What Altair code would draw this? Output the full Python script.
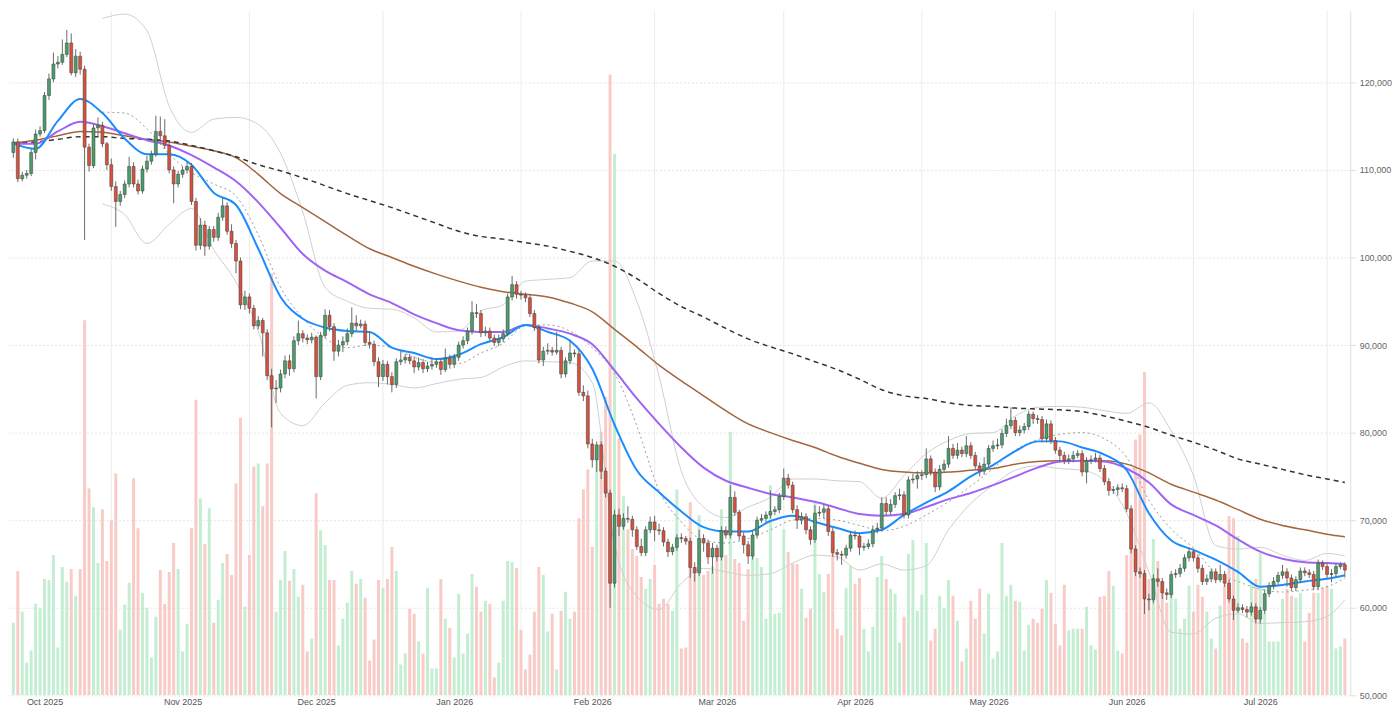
import altair as alt
import pandas as pd

# ---------------- data (prices in thousands of USD) ----------------
first_day = "2025-09-24"

opens = [
112.0,113.2,109.0,109.4,109.6,112.0,114.1,114.5,118.5,120.4,
122.1,122.3,123.2,124.5,121.1,123.0,121.5,112.6,110.5,114.8,
115.1,113.0,110.6,108.1,106.4,107.2,108.4,110.4,108.4,107.6,
110.1,111.0,111.8,114.4,113.9,112.8,110.0,108.4,109.5,110.0,
110.4,106.4,101.4,103.7,101.3,103.2,102.3,104.6,105.9,103.0,
101.6,99.6,94.6,95.5,94.2,92.2,92.8,91.4,86.5,85.0,
85.1,86.7,88.2,87.3,90.5,91.3,90.8,90.6,90.9,86.4,
91.1,93.4,92.1,89.3,90.0,90.4,91.3,92.5,92.2,92.4,
90.3,90.1,88.1,86.4,87.8,86.4,85.5,88.1,88.3,88.6,
88.2,87.5,88.0,87.3,87.6,87.8,88.1,87.2,88.5,87.8,
88.6,90.0,90.5,91.6,93.7,93.6,91.4,91.6,90.8,90.3,
90.7,91.3,95.5,96.9,95.8,95.7,95.4,93.6,92.0,88.3,
89.3,89.4,89.2,89.4,86.7,88.2,89.1,89.0,84.6,84.2,
78.7,76.9,78.6,75.6,73.1,62.8,70.6,69.3,70.2,70.1,
68.9,67.0,66.3,68.9,69.8,68.9,68.8,67.5,66.4,66.9,
68.0,67.9,67.6,64.6,64.0,67.9,67.4,65.8,66.8,65.8,
68.8,68.3,72.6,70.9,68.2,67.2,65.9,68.3,70.0,70.2,
70.6,71.0,71.2,72.7,74.8,74.0,71.2,70.0,70.4,68.9,
67.8,70.8,70.9,71.3,68.7,66.3,66.1,66.0,66.8,68.3,
68.2,66.9,67.0,67.3,68.9,69.1,71.9,71.0,71.8,72.8,
72.9,70.6,74.6,74.7,75.1,75.2,77.0,75.5,73.8,75.8,
76.4,78.2,77.4,78.0,77.6,78.5,77.4,76.2,75.6,76.4,
78.2,78.5,78.6,79.9,80.8,81.4,80.0,80.3,80.7,82.1,
81.6,81.5,79.3,81.0,79.1,78.0,77.4,76.8,77.0,77.4,
77.6,75.5,76.8,76.9,77.1,75.9,74.4,73.4,73.5,73.7,
73.6,71.3,66.7,64.1,63.9,61.0,60.9,63.3,63.0,61.7,
61.5,63.8,63.9,64.5,65.7,66.4,65.7,64.5,63.0,63.3,
64.1,63.2,63.8,62.8,61.0,59.7,60.0,59.8,59.5,60.1,
58.7,59.7,61.6,62.5,63.0,63.7,64.1,63.4,62.3,63.2,
64.2,64.0,63.8,62.4,65.1,64.7,63.8,63.9,64.7,64.9,
]

highs = [
113.6,113.6,109.8,110.0,112.4,114.6,115.0,118.9,121.0,123.4,
123.0,124.9,126.0,125.6,123.8,123.5,121.9,113.0,115.2,116.0,
115.5,113.2,111.3,108.7,107.6,108.8,111.5,110.9,108.9,110.5,
111.6,112.2,116.2,116.1,115.8,113.2,110.4,109.9,110.4,110.9,
110.8,106.8,104.5,104.2,103.6,103.6,105.1,106.8,106.3,103.8,
102.0,100.0,96.2,95.9,94.6,93.3,93.1,91.8,87.3,86.0,
87.2,88.8,88.9,91.0,92.8,91.7,91.2,91.4,91.1,91.5,
94.1,94.0,92.5,90.6,91.0,91.9,94.3,93.4,92.9,92.8,
91.5,90.5,88.6,88.3,88.2,86.9,88.5,89.4,89.0,89.0,
88.7,88.6,88.4,88.1,88.6,88.5,88.5,89.6,88.9,89.0,
90.4,91.0,92.0,95.0,94.7,94.0,92.1,92.0,91.2,91.2,
91.8,95.9,97.9,97.3,96.2,96.0,95.8,94.0,92.3,89.8,
90.2,89.8,91.5,89.8,88.6,90.6,89.5,89.4,85.4,84.8,
79.3,79.0,79.0,76.0,73.5,71.2,71.3,70.8,71.6,70.5,
69.3,67.9,69.3,70.4,70.5,69.6,69.2,67.9,67.3,68.4,
68.5,68.2,68.0,65.2,68.9,68.4,67.8,67.4,67.2,69.3,
69.3,74.0,73.3,71.2,68.6,67.6,68.8,70.4,70.7,71.0,
73.4,71.6,73.1,75.9,75.3,74.4,71.7,70.9,70.8,69.3,
71.7,71.6,71.8,71.7,69.1,66.7,66.5,67.2,68.7,68.8,
68.6,67.4,67.8,69.4,69.7,72.6,72.6,72.4,73.2,73.6,
73.3,75.0,75.3,75.6,75.7,78.2,77.4,75.9,76.3,76.9,
79.6,78.7,78.8,78.4,79.6,78.9,77.8,76.6,77.2,78.6,
79.1,79.3,80.4,81.6,82.9,81.8,80.8,81.1,82.5,82.4,
82.0,81.9,81.5,81.4,79.5,78.4,77.8,77.5,77.9,78.0,
78.0,77.2,77.4,77.7,77.5,76.3,74.8,73.9,74.1,74.2,
74.0,71.7,67.1,64.6,64.3,61.6,63.8,64.5,63.4,62.2,
64.2,64.4,65.0,66.1,66.9,66.7,66.1,64.9,63.8,64.5,
64.5,64.9,64.2,63.2,61.4,60.5,60.4,60.2,60.6,60.5,
60.1,62.1,62.9,63.5,64.1,64.9,64.5,63.8,63.6,64.6,
64.6,64.4,64.2,65.5,65.4,65.1,64.4,65.1,65.2,65.2,
]

lows = [
111.4,108.6,108.7,109.0,109.3,111.2,113.8,114.2,118.0,120.0,
121.6,122.0,122.9,120.8,120.6,120.9,102.0,109.8,110.2,113.8,
112.6,110.0,107.6,103.5,105.9,106.8,108.0,108.0,107.2,107.3,
109.7,110.6,111.5,113.5,112.4,109.6,106.2,108.0,109.1,109.6,
106.0,100.8,100.9,100.2,100.9,101.8,101.9,104.2,102.6,101.1,
98.2,94.1,94.0,93.6,91.8,91.8,88.7,86.0,80.6,83.4,
84.6,86.2,86.5,86.9,90.0,90.3,90.1,90.2,83.9,86.0,
90.8,91.6,88.2,88.7,89.2,90.0,90.9,91.6,91.9,89.9,
89.6,87.6,85.2,85.9,85.5,84.6,85.1,87.7,87.9,87.8,
86.8,87.1,86.8,86.9,87.2,87.4,86.6,86.9,87.3,87.4,
88.2,89.6,90.1,91.2,93.1,90.9,91.0,90.4,89.9,89.9,
90.3,91.0,95.1,95.3,95.2,94.9,93.2,91.6,87.9,87.6,
88.9,88.8,88.9,86.2,86.3,87.8,88.6,84.2,83.6,78.2,
76.0,75.5,74.7,72.6,60.0,62.3,68.2,68.9,69.7,68.1,
66.6,65.9,65.9,68.5,67.6,68.3,67.0,65.8,66.0,66.5,
67.4,67.2,63.4,63.0,63.6,66.4,65.0,63.9,65.3,65.4,
67.9,67.9,70.5,67.7,66.2,65.0,65.5,67.9,69.7,69.8,
70.2,70.6,70.8,72.3,73.6,70.8,69.0,69.5,68.4,67.2,
67.4,70.4,70.2,68.2,65.8,65.4,64.9,65.6,66.4,67.8,
66.0,66.5,66.7,66.9,68.5,68.7,70.5,70.6,71.4,72.3,
70.2,70.2,74.2,73.6,74.6,74.8,75.1,73.2,73.4,75.4,
76.0,77.0,77.0,77.2,77.2,77.0,75.8,75.0,75.2,76.0,
77.8,78.1,78.2,79.5,80.4,79.6,79.6,79.9,80.3,81.0,
81.0,78.9,78.9,78.7,77.6,76.6,76.4,76.4,76.6,77.1,
75.0,74.2,76.4,76.6,75.5,74.0,72.8,73.0,72.8,73.2,
70.9,66.2,63.6,63.4,59.3,59.7,60.5,62.4,61.0,60.9,
61.1,63.4,63.5,64.1,65.3,65.3,64.0,62.6,62.6,62.9,
62.8,62.9,62.4,60.6,58.6,59.4,59.4,58.9,59.1,58.2,
58.2,59.3,61.2,62.1,62.6,63.3,62.4,61.9,61.9,62.8,
63.6,63.4,62.0,62.0,64.3,63.4,62.9,63.5,64.4,63.5,
]

closes = [
113.2,109.0,109.4,109.6,112.0,114.1,114.5,118.5,120.4,122.1,
122.3,123.2,124.5,121.1,123.0,121.5,112.6,110.5,114.8,115.1,
113.0,110.6,108.1,106.4,107.2,108.4,110.4,108.4,107.6,110.1,
111.0,111.8,114.4,113.9,112.8,110.0,108.4,109.5,110.0,110.4,
106.4,101.4,103.7,101.3,103.2,102.3,104.6,105.9,103.0,101.6,
99.6,94.6,95.5,94.2,92.2,92.8,91.4,86.5,85.0,85.1,
86.7,88.2,87.3,90.5,91.3,90.8,90.6,90.9,86.4,91.1,
93.4,92.1,89.3,90.0,90.4,91.3,92.5,92.2,92.4,90.3,
90.1,88.1,86.4,87.8,86.4,85.5,88.1,88.3,88.6,88.2,
87.5,88.0,87.3,87.6,87.8,88.1,87.2,88.5,87.8,88.6,
90.0,90.5,91.6,93.7,93.6,91.4,91.6,90.8,90.3,90.7,
91.3,95.5,96.9,95.8,95.7,95.4,93.6,92.0,88.3,89.3,
89.4,89.2,89.4,86.7,88.2,89.1,89.0,84.6,84.2,78.7,
76.9,78.6,75.6,73.1,62.8,70.6,69.3,70.2,70.1,68.9,
67.0,66.3,68.9,69.8,68.9,68.8,67.5,66.4,66.9,68.0,
67.9,67.6,64.6,64.0,67.9,67.4,65.8,66.8,65.8,68.8,
68.3,72.6,70.9,68.2,67.2,65.9,68.3,70.0,70.2,70.6,
71.0,71.2,72.7,74.8,74.0,71.2,70.0,70.4,68.9,67.8,
70.8,70.9,71.3,68.7,66.3,66.1,66.0,66.8,68.3,68.2,
66.9,67.0,67.3,68.9,69.1,71.9,71.0,71.8,72.8,72.9,
70.6,74.6,74.7,75.1,75.2,77.0,75.5,73.8,75.8,76.4,
78.2,77.4,78.0,77.6,78.5,77.4,76.2,75.6,76.4,78.2,
78.5,78.6,79.9,80.8,81.4,80.0,80.3,80.7,82.1,81.6,
81.5,79.3,81.0,79.1,78.0,77.4,76.8,77.0,77.4,77.6,
75.5,76.8,76.9,77.1,75.9,74.4,73.4,73.5,73.7,73.6,
71.3,66.7,64.1,63.9,61.0,60.9,63.3,63.0,61.7,61.5,
63.8,63.9,64.5,65.7,66.4,65.7,64.5,63.0,63.3,64.1,
63.2,63.8,62.8,61.0,59.7,60.0,59.8,59.5,60.1,58.7,
59.7,61.6,62.5,63.0,63.7,64.1,63.4,62.3,63.2,64.2,
64.0,63.8,62.4,65.1,64.7,63.8,63.9,64.7,64.9,64.3,
]

# daily traded volume (arbitrary units)
volumes = [
73,125,84,33,45,92,88,117,116,141,48,129,114,127,100,127,377,208,189,133,
187,135,176,223,66,91,113,218,168,103,88,38,79,126,92,124,153,127,44,72,
168,297,198,152,188,73,96,133,142,121,213,279,89,141,230,233,190,233,424,84,
116,145,115,127,99,111,44,57,203,166,151,116,116,50,77,93,125,112,117,98,
35,56,116,108,117,149,125,31,42,87,82,54,42,108,27,27,117,77,68,38,
102,42,62,122,109,84,95,92,18,33,95,135,134,128,66,26,41,84,129,121,
64,82,26,85,104,77,84,178,207,227,149,250,265,300,624,544,258,200,167,147,
140,119,107,117,131,92,97,92,85,207,47,48,194,123,181,121,125,130,138,187,
141,265,137,133,75,127,143,138,129,77,211,82,83,167,144,132,132,107,78,87,
195,122,104,122,151,67,60,108,130,112,118,67,44,69,119,140,117,107,102,53,
79,142,156,85,101,153,55,67,100,88,116,100,75,34,47,95,77,107,62,102,
37,44,153,100,111,95,94,45,71,77,73,87,116,103,72,50,111,65,67,67,
67,89,50,46,99,100,125,110,45,42,141,177,257,262,325,117,157,135,107,93,
118,97,67,77,110,84,111,99,84,57,47,90,111,180,178,160,57,53,113,117,
143,83,54,54,54,97,107,100,98,103,54,83,103,103,108,110,107,47,49,57,
]

# indicator lines, read every 5th day (plus the last day)
sma200 = [113.0,113.2,113.5,113.8,113.8,113.6,113.5,113.3,112.8,112.2,
          111.5,110.6,109.9,109.1,108.2,107.3,106.5,105.7,104.8,103.9,
          103.0,102.4,102.1,101.7,101.3,100.7,100.0,99.0,97.6,95.9,
          94.4,93.2,91.9,90.7,89.8,89.0,88.1,87.2,86.1,84.9,
          84.2,83.9,83.4,83.1,83.0,82.8,82.7,82.6,82.4,81.9,
          81.3,80.6,79.7,78.9,78.0,77.0,76.4,75.8,75.2,74.7,74.3]
sma100 = [113.1,113.4,113.9,114.4,114.3,113.9,113.5,113.2,112.7,112.2,
          111.4,109.5,107.3,105.7,104.1,102.5,101.0,100.0,99.0,98.1,
          97.3,96.6,96.1,95.8,95.5,94.8,93.8,91.8,89.8,87.7,
          85.9,84.2,82.5,81.0,80.0,79.1,78.3,77.3,76.5,75.8,
          75.5,75.4,75.5,75.7,75.9,76.4,76.7,76.8,76.8,76.8,
          76.4,75.4,74.1,73.2,72.3,71.2,70.1,69.4,68.9,68.4,68.1]
ema50 = [113.0,113.0,114.4,115.5,115.0,114.2,113.4,112.8,111.7,110.3,
         108.7,106.3,103.4,100.4,98.5,97.2,95.8,94.8,93.5,92.5,
         91.7,91.5,91.5,92.3,91.9,91.3,90.1,87.1,83.9,81.0,
         78.3,76.0,74.5,73.7,73.0,72.6,72.1,71.4,70.7,70.5,
         70.7,71.5,72.4,73.1,74.0,75.0,76.0,76.7,76.8,76.7,
         75.9,74.3,71.8,70.6,69.4,67.8,66.4,65.6,65.2,65.1,65.0]
ema20 = [113.0,112.4,115.6,118.1,116.5,113.6,111.8,111.8,110.6,107.4,
         106.0,101.0,95.5,93.0,92.0,91.6,91.5,89.7,89.1,88.4,
         88.9,90.1,90.9,92.3,91.5,90.5,87.3,80.9,75.7,73.2,
         71.0,69.2,68.7,68.7,69.9,70.5,69.8,69.1,68.5,68.9,
         70.6,72.0,73.3,75.0,76.3,77.9,79.0,79.0,78.3,77.5,
         75.7,70.8,67.7,66.6,65.5,64.1,62.4,62.6,63.0,63.3,63.7]
sma20 = [116.6,116.5,114.7,111.8,109.7,108.4,107.0,102.6,
         96.6,93.1,90.8,89.7,90.0,89.7,88.6,88.0,87.9,89.1,
         90.2,92.2,92.3,91.6,89.7,86.8,80.8,73.4,69.8,67.7,
         67.4,67.9,68.9,70.0,70.2,70.0,69.4,68.8,69.3,70.6,
         72.1,73.9,75.9,78.0,79.2,79.8,80.0,79.3,77.2,72.3,
         69.0,66.8,64.0,63.0,62.1,61.8,62.0,62.4,63.4]
bb_upper = [127.3,127.8,125.9,117.3,114.3,115.8,116.0,115.2,
            111.9,105.2,96.6,95.0,94.2,94.1,93.1,91.5,91.6,93.9,
            94.6,97.3,97.5,97.7,99.6,99.6,95.0,86.4,75.6,71.5,
            70.3,71.5,72.6,74.7,74.7,74.5,74.4,72.5,75.1,77.6,
            79.1,79.9,80.0,81.9,82.9,83.0,82.9,82.5,82.2,83.4,
            80.2,75.1,67.1,66.7,66.9,66.0,65.4,66.2,65.9]
bb_lower = [106.1,104.9,101.6,103.8,105.6,100.9,97.2,91.6,
            82.2,80.8,83.4,85.4,85.7,85.5,85.1,85.6,86.1,86.3,
            87.5,88.2,88.1,88.0,85.7,67.2,61.3,59.8,62.8,64.5,
            64.1,63.7,63.9,65.1,66.0,65.8,64.3,65.0,64.3,64.8,
            68.9,71.9,74.0,75.7,76.2,75.9,75.7,74.5,70.8,64.1,
            57.2,57.0,58.8,59.3,58.2,58.3,58.4,59.0,60.9]

y_ticks = [50000, 60000, 70000, 80000, 90000, 100000, 110000, 120000]
grid_dates = ["2025-10-16", "2025-11-16", "2025-12-16", "2026-01-16", "2026-02-15",
              "2026-03-16", "2026-04-16", "2026-05-16", "2026-06-16", "2026-07-16"]

# ---------------- tables ----------------
fmt = "%Y-%m-%dT00:00:00"
days = pd.date_range(first_day, periods=len(closes), freq="D")
candles = pd.DataFrame({
    "date": days.strftime(fmt),
    "open": [v * 1000 for v in opens],
    "high": [v * 1000 for v in highs],
    "low": [v * 1000 for v in lows],
    "close": [v * 1000 for v in closes],
    "volume": volumes,
})

sample_idx = list(range(0, len(closes), 5)) + [len(closes) - 1]
sample_dates = [days[i].strftime(fmt) for i in sample_idx]


def line_table(vals):
    return pd.DataFrame({"date": sample_dates[-len(vals):], "value": [v * 1000 for v in vals]})


grid_df = pd.DataFrame({"date": [d + "T00:00:00" for d in grid_dates]})

# ---------------- encodings ----------------
x_scale = alt.Scale(domain=[alt.DateTime(year=2025, month=9, date=23, hours=22),
                            alt.DateTime(year=2026, month=7, date=20, hours=2)])
x_axis = alt.Axis(format="%b %Y", tickCount=alt.TimeIntervalStep(interval="month", step=1),
                  grid=False, domain=False, ticks=False, tickSize=0, labelPadding=2,
                  labelFlush=False,
                  labelColor="#555555", labelFontSize=9, labelFont="Liberation Sans", title=None)
X = alt.X("date:T", scale=x_scale, axis=x_axis)

p_scale = alt.Scale(domain=[50000, 128182], nice=False, zero=False)
y_axis = alt.Axis(orient="right", values=y_ticks, format=",.0f", title=None,
                  grid=True, gridDash=[2, 2], gridColor="#e4e4e4",
                  domainColor="#e0e0e0", tickColor="#dddddd", tickSize=5, labelPadding=4,
                  labelColor="#666666", labelFontSize=9, labelFont="Liberation Sans")

up = "datum.close >= datum.open"

grid = alt.Chart(grid_df).mark_rule(color="#ececec", strokeWidth=1).encode(x=X)

volume = alt.Chart(candles).mark_bar(size=3, clip=True).encode(
    x=X,
    y=alt.Y("volume:Q", scale=alt.Scale(domain=[0, 688], nice=False), axis=None),
    fill=alt.condition(up, alt.value("#c4eed2"), alt.value("#f9cbc6")),
)


def line(vals, **mark):
    return alt.Chart(line_table(vals)).mark_line(interpolate="monotone", clip=True, **mark).encode(
        x=X, y=alt.Y("value:Q", scale=p_scale, axis=y_axis))


bb_up = line(bb_upper, color="#cfcfcf", strokeWidth=1)
bb_lo = line(bb_lower, color="#cfcfcf", strokeWidth=1)
mid = line(sma20, color="#9a9a9a", strokeWidth=1, strokeDash=[2, 3])
brown = line(sma100, color="#a5653c", strokeWidth=1.5)
black = line(sma200, color="#333333", strokeWidth=1.5, strokeDash=[5, 4])
purple = line(ema50, color="#9f63f5", strokeWidth=2)
blue = line(ema20, color="#1a8cff", strokeWidth=2)

wick = alt.Chart(candles).mark_rule(color="#6a6a6a", strokeWidth=1, clip=True).encode(
    x=X, y=alt.Y("low:Q", scale=p_scale, axis=y_axis), y2="high:Q")
body = alt.Chart(candles).mark_bar(size=3, stroke="#3b3b3b", strokeWidth=0.5, clip=True).encode(
    x=X, y=alt.Y("open:Q", scale=p_scale, axis=y_axis), y2="close:Q",
    fill=alt.condition(up, alt.value("#4a9e6c"), alt.value("#d9503c")))

price = alt.layer(bb_up, bb_lo, mid, brown, black, purple, blue, wick, body)

chart = alt.layer(grid, volume, price).resolve_scale(y="independent").properties(
    width=1349, height=688,
    padding={"left": 0, "top": 0, "right": 0, "bottom": 0},
).configure_view(stroke=None)

chart.save("out.html", embed_options={"renderer": "svg", "actions": False})
